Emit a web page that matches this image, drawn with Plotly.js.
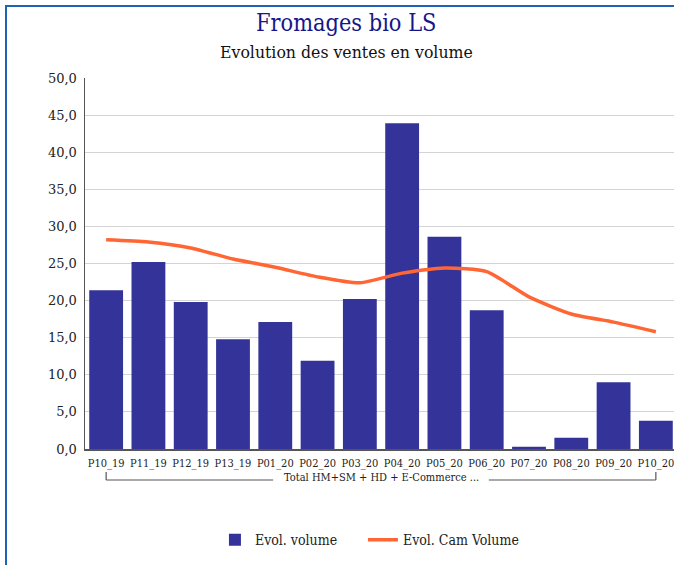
<!DOCTYPE html>
<html>
<head>
<meta charset="utf-8">
<script src="https://cdn.plot.ly/plotly-3.0.1.min.js"></script>
<style>
html,body{margin:0;padding:0;width:674px;height:565px;overflow:hidden;background:#fff;}
#frame{position:absolute;left:5px;top:5px;width:700px;height:600px;border-left:2px solid #1f62b8;border-top:2px solid #1f62b8;box-sizing:border-box;}
#chart{position:absolute;left:0;top:0;width:690px;height:565px;}
</style>
</head>
<body>
<div id="chart"></div>
<div id="frame"></div>
<script>
const categories = ["P10_19","P11_19","P12_19","P13_19","P01_20","P02_20","P03_20","P04_20","P05_20","P06_20","P07_20","P08_20","P09_20","P10_20"];
const evolVolume = [21.4,25.2,19.8,14.8,17.1,11.9,20.2,43.9,28.6,18.7,0.3,1.5,9.0,3.8];
const evolCamVolume = [28.2,27.9,27.1,25.6,24.5,23.2,22.4,23.7,24.4,23.9,20.5,18.2,17.1,15.8];
const groupLabel = "Total HM+SM + HD + E-Commerce ...";
const titleText = "Fromages bio LS";
const subtitleText = "Evolution des ventes en volume";

const serifC = "DejaVu Serif Condensed, DejaVu Serif, serif";
const serif = "DejaVu Serif, serif";

const traces = [
  {type:"bar", name:"Evol. volume", x:categories, y:evolVolume, marker:{color:"#333399"}, legend:"legend"},
  {type:"scatter", mode:"lines", name:"Evol. Cam Volume", x:categories, y:evolCamVolume,
   line:{color:"#ff6633", width:3.5, shape:"spline", smoothing:0.6}, legend:"legend2"}
];

const n = categories.length;
const mid = (n-1)/2;
const titleX = 0.441;
// bracket under the category group (gap left for the group label)
const yBr = -0.0836, yBrTop = -0.062;
const gapL = 3.95, gapR = 9.05;
const brLine = {color:"#555", width:1.2};
const legFont = {family:serifC, size:14, color:"#222"};

const layout = {
  width:690, height:565,
  margin:{l:85, r:13, t:78, b:116, autoexpand:false},
  paper_bgcolor:"rgba(0,0,0,0)", plot_bgcolor:"#fff",
  separators:", ",
  bargap:0.2,
  showlegend:true,
  legend:{orientation:"h", x:0.2195, xanchor:"left", y:-0.246, yanchor:"middle", font:legFont},
  legend2:{orientation:"h", x:0.4695, xanchor:"left", y:-0.246, yanchor:"middle", font:legFont},
  xaxis:{type:"category", showgrid:false, showline:true, linecolor:"#555", linewidth:1.5,
         ticks:"", ticklabelstandoff:3, tickfont:{family:serifC, size:11, color:"#222"}, tickangle:0,
         fixedrange:true, automargin:false},
  yaxis:{range:[0,50], dtick:5, tickformat:".1f", showgrid:true, gridcolor:"#d4d4d4",
         showline:true, linecolor:"#555", linewidth:1.5, zeroline:false, ticks:"", ticklabelstandoff:4,
         tickfont:{family:serif, size:13, color:"#222"}, fixedrange:true, automargin:false},
  annotations:[
    {text:titleText, xref:"paper", yref:"paper", x:titleX, y:1, yshift:56, showarrow:false,
     xanchor:"center", yanchor:"middle", font:{family:serifC, size:23.3, color:"#16168a"}},
    {text:subtitleText, xref:"paper", yref:"paper", x:titleX, y:1, yshift:26, showarrow:false,
     xanchor:"center", yanchor:"middle", font:{family:serifC, size:17.5, color:"#111"}},
    {text:groupLabel, xref:"x", yref:"paper", x:mid, y:-0.0755, showarrow:false,
     xanchor:"center", yanchor:"middle", borderpad:0,
     font:{family:serifC, size:11, color:"#222"}}
  ],
  shapes:[
    {type:"line", xref:"x", yref:"paper", x0:0, x1:gapL, y0:yBr, y1:yBr, line:brLine},
    {type:"line", xref:"x", yref:"paper", x0:gapR, x1:n-1, y0:yBr, y1:yBr, line:brLine},
    {type:"line", xref:"x", yref:"paper", x0:0, x1:0, y0:yBr, y1:yBrTop, line:brLine},
    {type:"line", xref:"x", yref:"paper", x0:n-1, x1:n-1, y0:yBr, y1:yBrTop, line:brLine}
  ]
};

Plotly.newPlot("chart", traces, layout, {displayModeBar:false, staticPlot:true});
</script>
</body>
</html>
